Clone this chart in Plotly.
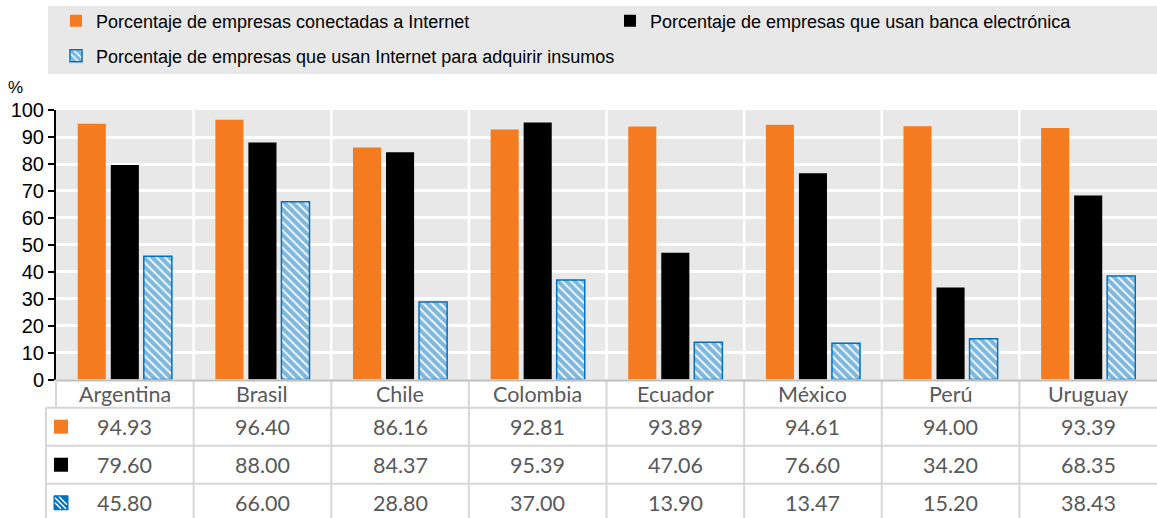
import plotly.graph_objects as go

W, H = 1157, 518

categories = ["Argentina", "Brasil", "Chile", "Colombia", "Ecuador", "México", "Perú", "Uruguay"]
series_names = [
    "Porcentaje de empresas conectadas a Internet",
    "Porcentaje de empresas que usan banca electrónica",
    "Porcentaje de empresas que usan Internet para adquirir insumos",
]
conectadas = [94.93, 96.40, 86.16, 92.81, 93.89, 94.61, 94.00, 93.39]
banca = [79.60, 88.00, 84.37, 95.39, 47.06, 76.60, 34.20, 68.35]
insumos = [45.80, 66.00, 28.80, 37.00, 13.90, 13.47, 15.20, 38.43]
y_ticks = list(range(0, 101, 10))

ORANGE = "#F47B20"
BLACK = "#000000"
BLUE = "#0070C0"
GRID_BG = "#E8E8E8"
TABLE_LINE = "#D6D6D6"
TABLE_TEXT = "#595959"

# vertical compensation measured from the rendering pipeline
V_OFF, V_SCALE = 12.0, 0.956


def px(x):
    return x / W


def py(y):
    return 1 - ((y - V_OFF) / V_SCALE) / H


PLOT_L, PLOT_R = 56, 1157
PLOT_T, PLOT_B = 111, 380

fig = go.Figure()
fig.add_trace(go.Bar(x=categories, y=conectadas, name=series_names[0],
                     marker=dict(color=ORANGE, line=dict(width=0)), legend="legend"))
fig.add_trace(go.Bar(x=categories, y=banca, name=series_names[1],
                     marker=dict(color=BLACK, line=dict(width=0)), legend="legend2"))
fig.add_trace(go.Bar(x=categories, y=insumos, name=series_names[2],
                     marker=dict(color="white", line=dict(color=BLUE, width=1.5),
                                 pattern=dict(shape="\\", fgcolor=BLUE, bgcolor="white",
                                              size=6, solidity=0.7, fillmode="overlay")),
                     legend="legend3"))

legend_font = dict(family="Liberation Sans, Arial, sans-serif", size=18, color="#000000")
common_leg = dict(font=legend_font, bgcolor="rgba(0,0,0,0)", borderwidth=0,
                  xanchor="left", yanchor="middle", orientation="h")

shapes = []
annotations = []

# legend background
shapes.append(dict(type="rect", xref="paper", yref="paper", x0=px(48), x1=px(1157),
                   y0=py(75), y1=py(7), fillcolor=GRID_BG, line=dict(width=0), layer="below"))

# category separators inside plot (white) and in table (gray)
for i in range(len(categories) - 1):
    shapes.append(dict(type="line", xref="x", yref="paper", x0=i + 0.5, x1=i + 0.5,
                       y0=py(PLOT_B), y1=py(PLOT_T), line=dict(color="white", width=2.5),
                       layer="below"))
    shapes.append(dict(type="line", xref="x", yref="paper", x0=i + 0.5, x1=i + 0.5,
                       y0=py(530), y1=py(PLOT_B), line=dict(color=TABLE_LINE, width=2)))

# table borders
shapes.append(dict(type="line", xref="paper", yref="paper", x0=px(PLOT_L), x1=1,
                   y0=py(PLOT_B + 1), y1=py(PLOT_B + 1), line=dict(color="#BFBFBF", width=2)))
for yy in [408, 446, 484]:
    shapes.append(dict(type="line", xref="paper", yref="paper", x0=px(46), x1=1,
                       y0=py(yy), y1=py(yy), line=dict(color=TABLE_LINE, width=2)))
shapes.append(dict(type="line", xref="paper", yref="paper", x0=px(PLOT_L), x1=px(PLOT_L),
                   y0=py(408), y1=py(PLOT_B), line=dict(color=TABLE_LINE, width=2)))
shapes.append(dict(type="line", xref="paper", yref="paper", x0=px(46), x1=px(46),
                   y0=py(530), y1=py(408), line=dict(color=TABLE_LINE, width=2)))

# table legend keys
row_centers = [427, 465, 503]
key_x0, key_x1 = 54, 68
for rc, col in zip(row_centers[:2], [ORANGE, BLACK]):
    shapes.append(dict(type="rect", xref="paper", yref="paper", x0=px(key_x0), x1=px(key_x1),
                       y0=py(rc + 7), y1=py(rc - 7), fillcolor=col, line=dict(width=0)))
rc = row_centers[2]
shapes.append(dict(type="rect", xref="paper", yref="paper", x0=px(key_x0), x1=px(key_x1),
                   y0=py(rc + 7), y1=py(rc - 7), fillcolor=BLUE, line=dict(color=BLUE, width=1)))
for off in [-6, -1, 4]:
    shapes.append(dict(type="line", xref="paper", yref="paper",
                       x0=px(key_x0 + 1 + max(0, off)), y0=py(rc - 6 + max(0, -off)),
                       x1=px(key_x1 - 1 - max(0, -off)), y1=py(rc + 6 - max(0, off)),
                       line=dict(color="white", width=1.5)))

table_font = dict(family="Lato, Carlito, sans-serif", size=21.5, color=TABLE_TEXT)
for c in categories:
    annotations.append(dict(x=c, y=py(394), xref="x", yref="paper", text=c, showarrow=False,
                            font=table_font, xanchor="center", yanchor="middle"))
for rc, vals in zip(row_centers, [conectadas, banca, insumos]):
    for c, v in zip(categories, vals):
        annotations.append(dict(x=c, y=py(rc), xref="x", yref="paper", text=f"{v:.2f}",
                                showarrow=False, font=table_font, xanchor="center",
                                yanchor="middle"))

annotations.append(dict(x=px(15), y=py(88), xref="paper", yref="paper", text="%",
                        showarrow=False, font=dict(family="Liberation Sans, Arial", size=17,
                                                   color="#000"), xanchor="center",
                        yanchor="middle"))

fig.update_layout(
    width=W, height=H,
    margin=dict(l=0, r=0, t=0, b=0),
    paper_bgcolor="white",
    plot_bgcolor=GRID_BG,
    barmode="group",
    bargap=0.28,
    bargroupgap=0.15,
    showlegend=True,
    legend=dict(**common_leg, x=px(56), y=py(22)),
    legend2=dict(**common_leg, x=px(610), y=py(22)),
    legend3=dict(**common_leg, x=px(56), y=py(57)),
    xaxis=dict(domain=[px(PLOT_L), 1], range=[-0.5, len(categories) - 0.5],
               showticklabels=False, showgrid=False, zeroline=False, ticks=""),
    yaxis=dict(domain=[py(PLOT_B), py(PLOT_T)], range=[0, 100], tickvals=y_ticks,
               showgrid=True, gridcolor="white", gridwidth=2.5, zeroline=False,
               showline=True, linecolor="#000", linewidth=2, ticks="outside",
               ticklen=6, tickcolor="#000", tickwidth=1.5,
               tickfont=dict(family="Liberation Sans, Arial", size=20, color="#000")),
    shapes=shapes,
    annotations=annotations,
)

fig.write_html("out.html", config={"displayModeBar": False},
               post_script="document.body.style.margin='0';document.body.style.overflow='hidden';")
